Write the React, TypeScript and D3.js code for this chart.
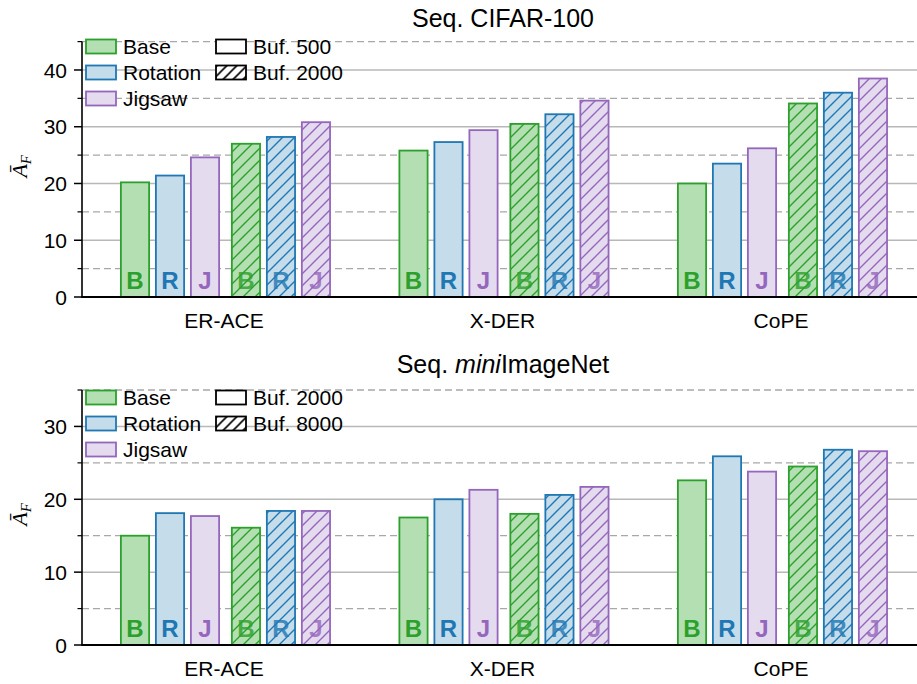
import React from 'react';
import * as d3 from 'd3';

// groups (x categories) and methods
const groups = ['ER-ACE', 'X-DER', 'CoPE'];
const methods = ['Base', 'Rotation', 'Jigsaw'];
const letters = ['B', 'R', 'J'];
const edgeColors = ['#2ca02c', '#1f77b4', '#9467bd'];
const fillColors = ['#b4dfb2', '#c5dcea', '#e5dbef'];

// Seq. CIFAR-100 values (Ā_F)
const cifarBase500 = [20.2, 25.8, 20.0];
const cifarRot500 = [21.4, 27.3, 23.5];
const cifarJig500 = [24.6, 29.4, 26.2];
const cifarBase2000 = [27.0, 30.5, 34.1];
const cifarRot2000 = [28.2, 32.2, 36.0];
const cifarJig2000 = [30.8, 34.6, 38.5];

// Seq. miniImageNet values (Ā_F)
const miniBase2000 = [15.0, 17.5, 22.6];
const miniRot2000 = [18.1, 20.0, 25.9];
const miniJig2000 = [17.7, 21.3, 23.8];
const miniBase8000 = [16.1, 18.0, 24.5];
const miniRot8000 = [18.4, 20.6, 26.8];
const miniJig8000 = [18.4, 21.7, 26.6];

const cifarBufLabels = ['Buf. 500', 'Buf. 2000'];
const miniBufLabels = ['Buf. 2000', 'Buf. 8000'];

const W = 917;
const H = 684;
const FONT = '"Liberation Sans", Arial, Helvetica, sans-serif';
const AXIS_X = 82;

interface Panel {
  id: string;
  yMax: number;
  top: number;
  bottom: number;
  titleY: number;
  xLabelY: number;
  legendY: number;
  bufLabels: string[];
  small: number[][]; // per method, small buffer
  large: number[][]; // per method, large buffer
}

const panels: Panel[] = [
  {
    id: 'cifar', yMax: 45, top: 41.6, bottom: 297, titleY: 27, xLabelY: 328, legendY: 46.5,
    bufLabels: cifarBufLabels,
    small: [cifarBase500, cifarRot500, cifarJig500],
    large: [cifarBase2000, cifarRot2000, cifarJig2000],
  },
  {
    id: 'mini', yMax: 35, top: 390, bottom: 645, titleY: 373, xLabelY: 676, legendY: 397.5,
    bufLabels: miniBufLabels,
    small: [miniBase2000, miniRot2000, miniJig2000],
    large: [miniBase8000, miniRot8000, miniJig8000],
  },
];

const xGroup = d3.scaleBand<string>().domain(groups).range([85.25, 920.75]);
// slot index inside a group -> px offset (extra gap between the two buffer sizes)
const slotPos = d3.scaleLinear().domain([0, 1]).range([34.75, 69.75]);
const slots = [0, 1, 2, 3.17, 4.17, 5.17];
const BAR_W = 30;
const STROKE = 1.8;

function ChartPanel({ p }: { p: Panel }) {
  const y = d3.scaleLinear().domain([0, p.yMax]).range([p.bottom, p.top]);
  const major = d3.range(0, p.yMax + 1, 10);
  const minor = d3.range(5, p.yMax + 1, 10);
  const bars: { g: string; slot: number; m: number; v: number; hatched: boolean }[] = [];
  groups.forEach((g, gi) => {
    methods.forEach((_, mi) => {
      bars.push({ g, slot: slots[mi], m: mi, v: p.small[mi][gi], hatched: false });
    });
    methods.forEach((_, mi) => {
      bars.push({ g, slot: slots[mi + 3], m: mi, v: p.large[mi][gi], hatched: true });
    });
  });
  const cy = (p.top + p.bottom) / 2;

  return (
    <g>
      {/* grid */}
      {major.filter(t => t > 0).map(t => (
        <line key={'M' + t} x1={AXIS_X} x2={W} y1={y(t)} y2={y(t)} stroke="#b8b8b8" strokeWidth={1.5} />
      ))}
      {minor.map(t => (
        <line key={'m' + t} x1={AXIS_X} x2={W} y1={y(t)} y2={y(t)} stroke="#a8a8a8" strokeWidth={1.3} strokeDasharray="7,4" />
      ))}

      {/* bars */}
      {bars.map((b, i) => {
        const x0 = (xGroup(b.g) as number) + slotPos(b.slot);
        const top = y(b.v);
        const rx = x0 + STROKE / 2;
        const rw = BAR_W - STROKE;
        return (
          <g key={i}>
            <rect x={rx} y={top} width={rw} height={y(0) - top} fill={fillColors[b.m]} />
            <text x={x0 + BAR_W / 2} y={y(0) - 8.5} textAnchor="middle" fontFamily={FONT} fontWeight="bold"
              fontSize={24} fill={edgeColors[b.m]} opacity={b.hatched ? 0.8 : 1}>{letters[b.m]}</text>
            {b.hatched && (
              <rect x={rx} y={top} width={rw} height={y(0) - top} fill={`url(#hatch-${b.m})`} />
            )}
            <rect x={rx} y={top} width={rw} height={y(0) - top} fill="none" stroke={edgeColors[b.m]} strokeWidth={STROKE} />
          </g>
        );
      })}

      {/* axes */}
      <line x1={AXIS_X} x2={AXIS_X} y1={p.top} y2={p.bottom} stroke="#000" strokeWidth={1.6} />
      <line x1={AXIS_X - 0.8} x2={W} y1={p.bottom} y2={p.bottom} stroke="#000" strokeWidth={2} />
      {major.map(t => (
        <g key={'t' + t}>
          <line x1={AXIS_X - 8} x2={AXIS_X} y1={y(t)} y2={y(t)} stroke="#000" strokeWidth={1.5} />
          <text x={AXIS_X - 15} y={y(t)} dy="0.36em" textAnchor="end" fontFamily={FONT} fontSize={21}>{t}</text>
        </g>
      ))}
      {minor.map(t => (
        <line key={'mt' + t} x1={AXIS_X - 4.5} x2={AXIS_X} y1={y(t)} y2={y(t)} stroke="#000" strokeWidth={1.2} />
      ))}
      {groups.map(g => (
        <text key={g} x={(xGroup(g) as number) + xGroup.bandwidth() / 2 - 0.5} y={p.xLabelY} textAnchor="middle"
          fontFamily={FONT} fontSize={21}>{g}</text>
      ))}

      {/* y label */}
      <text transform={`translate(27,${cy - 3}) rotate(-90)`} textAnchor="middle"
        fontFamily='"Liberation Serif", "DejaVu Serif", serif' fontSize={22}>
        <tspan fontStyle="italic">Ā</tspan>
        <tspan fontStyle="italic" fontSize={15} dy={4}>F</tspan>
      </text>

      {/* title */}
      <text x={503} y={p.titleY} textAnchor="middle" fontFamily={FONT} fontSize={25}>
        {p.id === 'cifar' ? 'Seq. CIFAR-100' : (
          <>
            <tspan>Seq. </tspan>
            <tspan fontStyle="italic">mini</tspan>
            <tspan>ImageNet</tspan>
          </>
        )}
      </text>

      {/* legend */}
      {methods.map((m, i) => (
        <g key={m} transform={`translate(0,${p.legendY + i * 26})`}>
          <rect x={86} y={-7} width={30} height={14} fill={fillColors[i]} stroke={edgeColors[i]} strokeWidth={STROKE} />
          <text x={123} y={0} dy="0.36em" fontFamily={FONT} fontSize={21}>{m}</text>
        </g>
      ))}
      {p.bufLabels.map((l, i) => (
        <g key={l} transform={`translate(0,${p.legendY + i * 26})`}>
          <rect x={216} y={-7} width={30} height={14} fill={i === 1 ? 'url(#hatch-legend)' : '#fff'} stroke="#000" strokeWidth={STROKE} />
          <text x={253} y={0} dy="0.36em" fontFamily={FONT} fontSize={21}>{l}</text>
        </g>
      ))}
    </g>
  );
}

export default function App() {
  return (
    <svg width={W} height={H} style={{ position: 'absolute', left: 0, top: 0, background: '#fff' }}>
      <defs>
        {edgeColors.map((c, i) => (
          <pattern key={i} id={`hatch-${i}`} patternUnits="userSpaceOnUse" width={12} height={12}>
            <path d="M0,12 L12,0 M-3,3 L3,-3 M9,15 L15,9" stroke={c} strokeWidth={1.4} />
          </pattern>
        ))}
        <pattern id="hatch-legend" patternUnits="userSpaceOnUse" width={10} height={10}>
          <rect width={10} height={10} fill="#fff" />
          <path d="M0,10 L10,0 M-3,3 L3,-3 M7,13 L13,7" stroke="#000" strokeWidth={1.6} />
        </pattern>
      </defs>
      <rect width={W} height={H} fill="#fff" />
      {panels.map(p => <ChartPanel key={p.id} p={p} />)}
    </svg>
  );
}
